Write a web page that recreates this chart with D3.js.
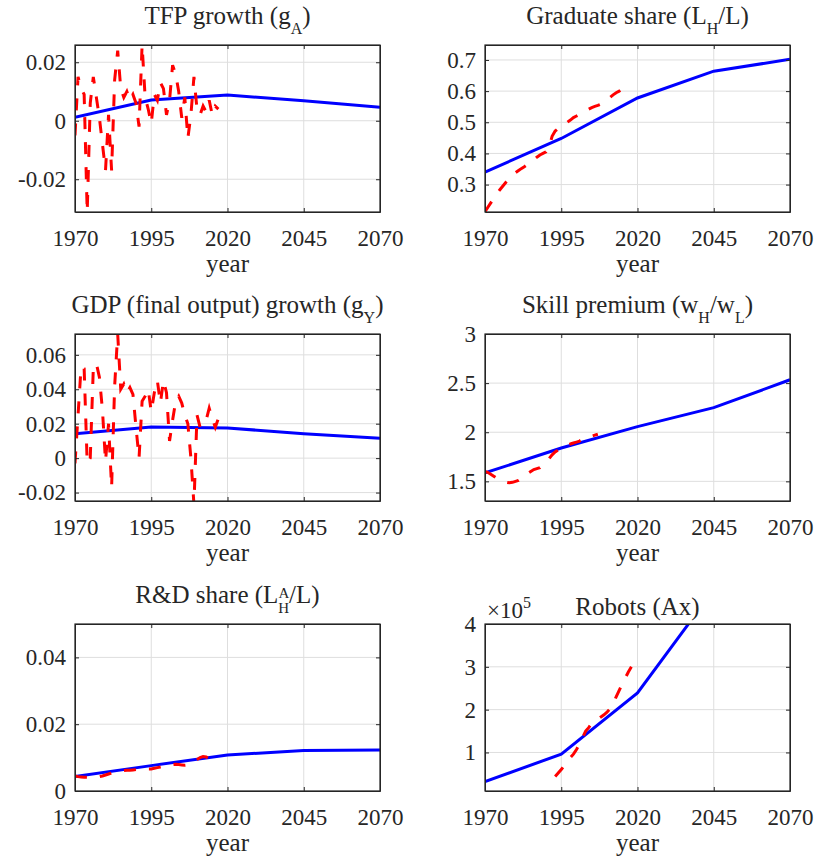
<!DOCTYPE html>
<html>
<head>
<meta charset="utf-8">
<script src="https://cdn.jsdelivr.net/npm/d3@7"></script>
<style>
body { margin: 0; background: #fff; }
text { font-family: "Liberation Serif", "Times New Roman", serif; fill: #262626; }
</style>
</head>
<body>
<script>
// model projection (blue, solid) is given every 25 years
var modelYears = [1970, 1995, 2020, 2045, 2070];
var yearTicks = [1970, 1995, 2020, 2045, 2070];

// TFP growth
var tfpModel = [0.0012, 0.0071, 0.0088, 0.0068, 0.0046];
var tfpStart = 1970;
var tfpData = [-0.005, 0.015, 0.011, 0.009, -0.0312, 0.006, 0.015, 0.008, 0.001, -0.008,
  -0.017, 0.002, -0.017, 0.014, 0.024, 0.011, 0.008, 0.010, 0.007, 0.009,
  0.006, -0.002, 0.0259, 0.008, 0.004, -0.001, 0.009, 0.007, 0.013, 0.011,
  0.002, 0.007, 0.019, 0.016, 0.010, 0.001, 0.008, -0.006, 0.002, 0.015,
  0.004, 0.002, 0.005, 0.003, 0.007, 0.002, 0.005, 0.004];
var tfpRange = [-0.0312, 0.0259];
var tfpTicks = [-0.02, 0, 0.02];

// Graduate share
var gradModel = [0.340, 0.448, 0.578, 0.664, 0.702];
var gradStart = 1970;
var gradData = [0.213, 0.228, 0.243, 0.258, 0.272, 0.285, 0.297, 0.309, 0.320, 0.330,
  0.338, 0.345, 0.352, 0.358, 0.365, 0.372, 0.380, 0.388, 0.395, 0.400,
  0.405, 0.420, 0.455, 0.472, 0.480, 0.485, 0.492, 0.500, 0.507, 0.515,
  0.520, 0.525, 0.530, 0.537, 0.542, 0.547, 0.551, 0.554, 0.558, 0.565,
  0.572, 0.580, 0.588, 0.595, 0.600, 0.607, 0.613];
var gradRange = [0.212, 0.748];
var gradTicks = [0.3, 0.4, 0.5, 0.6, 0.7];

// GDP growth
var gdpModel = [0.0142, 0.0181, 0.0175, 0.0142, 0.0115];
var gdpStart = 1970;
var gdpData = [-0.003, 0.025, 0.053, 0.052, -0.003, 0.000, 0.052, 0.055, 0.047, 0.028,
  -0.002, 0.020, -0.017, 0.042, 0.0721, 0.040, 0.043, 0.038, 0.041, 0.037,
  0.018, 0.000, 0.033, 0.036, 0.040, 0.027, 0.038, 0.045, 0.032, 0.045,
  0.038, 0.010, 0.022, 0.033, 0.036, 0.032, 0.025, 0.020, 0.000, -0.027,
  0.025, 0.018, 0.021, 0.022, 0.029, 0.023, 0.018, 0.023];
var gdpRange = [-0.0249, 0.0721];
var gdpTicks = [-0.02, 0, 0.02, 0.04, 0.06];

// Skill premium
var skillModel = [1.586, 1.840, 2.057, 2.250, 2.534];
var skillStart = 1970;
var skillData = [1.60, 1.59, 1.57, 1.55, 1.53, 1.51, 1.50, 1.49, 1.485, 1.49,
  1.50, 1.51, 1.53, 1.55, 1.58, 1.60, 1.62, 1.63, 1.64, 1.67,
  1.70, 1.73, 1.77, 1.80, 1.82, 1.84, 1.86, 1.87, 1.88, 1.89,
  1.90, 1.91, 1.93, 1.94, 1.95, 1.96, 1.97, 1.98];
var skillRange = [1.3, 3];
var skillTicks = [1.5, 2, 2.5, 3];

// R&D share
var rdModel = [0.0043, 0.0076, 0.0108, 0.0121, 0.0123];
var rdStart = 1970;
var rdData = [0.0045, 0.0043, 0.0042, 0.0041, 0.0041, 0.0040, 0.0041, 0.0042, 0.0043, 0.0045,
  0.0048, 0.0051, 0.0054, 0.0057, 0.0059, 0.0060, 0.0061, 0.0062, 0.0062, 0.0063,
  0.0064, 0.0065, 0.0066, 0.0066, 0.0066, 0.0066, 0.0068, 0.0070, 0.0072, 0.0074,
  0.0075, 0.0077, 0.0079, 0.0080, 0.0079, 0.0078, 0.0077, 0.0078, 0.0081, 0.0087,
  0.0094, 0.0100, 0.0103, 0.0102, 0.0097, 0.0093];
var rdRange = [0, 0.05];
var rdTicks = [0, 0.02, 0.04];

// Robots
var robotModel = [32000, 96000, 239000, 480000, 850000];
var robotStart = 1993;
var robotData = [44000, 52000, 60000, 70000, 80000, 88000, 96000, 107000, 120000, 135000,
  150000, 158000, 168000, 172000, 178000, 183000, 188000, 194000, 202000, 214000,
  230000, 245000, 260000, 274000, 288000, 300000];
var robotRange = [10000, 400000];
var robotTicks = [100000, 200000, 300000, 400000];

var W = 305, H = 167;

var svg = d3.select("body").append("svg")
  .attr("width", 814)
  .attr("height", 863);

var panels = [
  {id: "tfp", left: 75, top: 45, title: [["TFP growth (g", 0], ["A", 1], [")", 0]],
   model: tfpModel, data: tfpData, start: tfpStart, range: tfpRange, ticks: tfpTicks, scale: 1},
  {id: "grad", left: 485, top: 45, title: [["Graduate share (L", 0], ["H", 1], ["/L)", 0]],
   model: gradModel, data: gradData, start: gradStart, range: gradRange, ticks: gradTicks, scale: 1},
  {id: "gdp", left: 75, top: 334, title: [["GDP (final output) growth (g", 0], ["Y", 1], [")", 0]],
   model: gdpModel, data: gdpData, start: gdpStart, range: gdpRange, ticks: gdpTicks, scale: 1},
  {id: "skill", left: 485, top: 334, title: [["Skill premium (w", 0], ["H", 1], ["/w", 0], ["L", 1], [")", 0]],
   model: skillModel, data: skillData, start: skillStart, range: skillRange, ticks: skillTicks, scale: 1},
  {id: "rd", left: 75, top: 624, title: [["R&D share (L", 0], ["A", 2], ["H", 3], ["/L)", 0]],
   model: rdModel, data: rdData, start: rdStart, range: rdRange, ticks: rdTicks, scale: 1},
  {id: "robot", left: 485, top: 624, title: [["Robots (Ax)", 0]],
   model: robotModel, data: robotData, start: robotStart, range: robotRange, ticks: robotTicks, scale: 100000}
];

panels.forEach(drawPanel);

function drawPanel(p)
{
  var g = svg.append("g")
    .attr("transform", "translate(" + p.left + "," + p.top + ")");

  var x = d3.scaleLinear().domain([1970, 2070]).range([0, W]);
  var y = d3.scaleLinear().domain(p.range).range([H, 0]);

  g.append("clipPath").attr("id", "clip-" + p.id)
    .append("rect").attr("width", W).attr("height", H);

  // grid
  g.selectAll(".gx").data(yearTicks).enter().append("line")
    .attr("x1", d => x(d)).attr("x2", d => x(d))
    .attr("y1", 0).attr("y2", H)
    .attr("stroke", "#dedede").attr("stroke-width", 1);
  g.selectAll(".gy").data(p.ticks).enter().append("line")
    .attr("x1", 0).attr("x2", W)
    .attr("y1", d => y(d)).attr("y2", d => y(d))
    .attr("stroke", "#dedede").attr("stroke-width", 1);

  var plot = g.append("g").attr("clip-path", "url(#clip-" + p.id + ")");

  var line = d3.line().x(d => x(d[0])).y(d => y(d[1]));

  plot.append("path")
    .datum(modelYears.map((yr, i) => [yr, p.model[i]]))
    .attr("d", line)
    .attr("fill", "none")
    .attr("stroke", "#0000ff")
    .attr("stroke-width", 3);

  plot.append("path")
    .datum(p.data.map((v, i) => [p.start + i, v]))
    .attr("d", line)
    .attr("fill", "none")
    .attr("stroke", "#ff0000")
    .attr("stroke-width", 3)
    .attr("stroke-dasharray", "12,13");

  // axes (ticks point inward, box on)
  var xAxis = g.append("g")
    .attr("transform", "translate(0," + H + ")")
    .call(d3.axisBottom(x).tickValues(yearTicks).tickFormat(d3.format("d"))
      .tickSizeInner(-4).tickSizeOuter(0).tickPadding(18));
  var yAxis = g.append("g")
    .call(d3.axisLeft(y).tickValues(p.ticks).tickFormat(d => String(d / p.scale))
      .tickSizeInner(-4).tickSizeOuter(0).tickPadding(9));
  g.append("g")
    .call(d3.axisTop(x).tickValues(yearTicks).tickFormat("").tickSizeInner(-4).tickSizeOuter(0));
  g.append("g")
    .attr("transform", "translate(" + W + ",0)")
    .call(d3.axisRight(y).tickValues(p.ticks).tickFormat("").tickSizeInner(-4).tickSizeOuter(0));

  g.selectAll(".tick line").attr("stroke", "#262626");
  g.selectAll(".domain").attr("stroke", "#262626");
  [xAxis, yAxis].forEach(a => a.attr("font-size", null).attr("font-family", null)
    .selectAll("text").style("font-size", "23px").attr("fill", "#262626"));

  g.append("rect")
    .attr("width", W).attr("height", H)
    .attr("fill", "none").attr("stroke", "#262626").attr("stroke-width", 1.2);

  // x label
  g.append("text")
    .attr("x", W / 2).attr("y", H + 60)
    .attr("text-anchor", "middle")
    .style("font-size", "25px")
    .text("year");

  // title with sub/superscripts
  var t = g.append("text")
    .attr("x", W / 2).attr("y", p.id == "robot" ? -9 : -21)
    .attr("text-anchor", "middle")
    .style("font-size", "25px");
  var shift = 0;
  p.title.forEach(part => {
    var span = t.append("tspan").text(part[0]);
    var target = 0;
    if (part[1] == 1 || part[1] == 3) target = 10;
    if (part[1] == 2) target = -5;
    if (part[1] > 0) span.style("font-size", part[1] > 1 ? "15px" : "16px");
    if (part[1] == 3) span.attr("dx", -11);
    span.attr("dy", target - shift);
    shift = target;
  });

  if (p.scale != 1) {
    var e = g.append("text").attr("x", 2).attr("y", -6).style("font-size", "23px");
    e.append("tspan").text("\u00d710");
    e.append("tspan").text("5").attr("dy", -10).style("font-size", "16px");
  }
}
</script>
</body>
</html>
